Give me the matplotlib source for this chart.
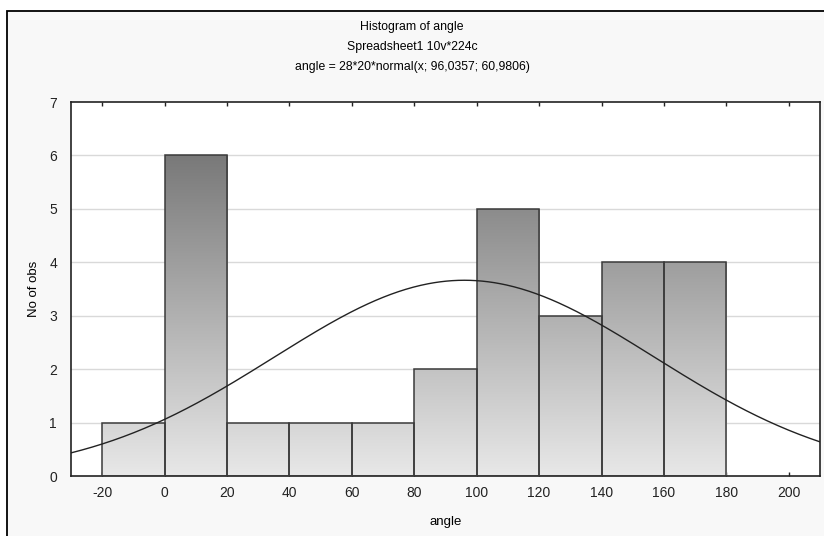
import numpy as np
import matplotlib.pyplot as plt
from matplotlib.patches import Rectangle

plt.rcParams['font.family'] = ['Liberation Sans', 'DejaVu Sans']
plt.rcParams['axes.unicode_minus'] = False

# histogram bins (left edges, width 20) and counts
bin_left = [-20, 0, 20, 40, 60, 80, 100, 120, 140, 160]
counts = [1, 6, 1, 1, 1, 2, 5, 3, 4, 4]
bin_width = 20

# fitted normal shown in the title
n_obs = 28
fit_mean = 96.0357
fit_sd = 60.9806

xticks = [-20, 0, 20, 40, 60, 80, 100, 120, 140, 160, 180, 200]
yticks = [0, 1, 2, 3, 4, 5, 6, 7]

W, H = 824, 536
fig = plt.figure(figsize=(W / 100, H / 100), dpi=100)
fig.patch.set_facecolor('white')

# outer frame
frame = Rectangle((7 / W, -0.01), (W - 7) / W + 0.01, (H - 11) / H + 0.01,
                  transform=fig.transFigure, facecolor='#f8f8f8',
                  edgecolor='black', lw=1.3, zorder=-1)
fig.patches.append(frame)

ax = fig.add_axes([71 / W, (H - 476) / H, (820 - 71) / W, (476 - 102) / H])
ax.set_zorder(2)
ax.set_facecolor('white')
ax.set_xlim(-30, 210)
ax.set_ylim(0, 7)

for y in yticks[1:-1]:
    ax.axhline(y, color='#d9d9d9', lw=1, zorder=1)

# gradient: dark at top, light at bottom, in data coordinates
grad = np.linspace(0, 1, 256).reshape(-1, 1)
cvals = (232 - 18.5 * 7 * grad) / 255.0
img_rgb = np.dstack([cvals, cvals, cvals])
for left, c in zip(bin_left, counts):
    im = ax.imshow(img_rgb, extent=(-30, 210, 0, 7), origin='lower',
                   aspect='auto', zorder=2, interpolation='bilinear')
    rect = Rectangle((left, 0), bin_width, c, facecolor='none',
                     edgecolor='#3a3a3a', lw=1.1, zorder=3)
    ax.add_patch(rect)
    im.set_clip_path(rect)

xs = np.linspace(-30, 210, 500)
ys = n_obs * bin_width * np.exp(-0.5 * ((xs - fit_mean) / fit_sd) ** 2) / (fit_sd * np.sqrt(2 * np.pi))
ax.plot(xs, ys, color='#222222', lw=1.0, zorder=4)

ax.set_xticks(xticks)
ax.set_yticks(yticks)
ax.tick_params(direction='in', length=3, width=1, top=True,
               labelsize=10, colors='#222222', pad=7)
ax.tick_params(axis='y', length=0, pad=10)
for s in ax.spines.values():
    s.set_linewidth(1.2)
    s.set_color('#222222')

ax.set_xlabel('angle', fontsize=9.5, labelpad=12)
ax.set_ylabel('No of obs', fontsize=9.5, labelpad=7)

fig.text(0.5, 1 - 27 / H, 'Histogram of angle', ha='center', va='center', fontsize=8.8)
fig.text(0.5, 1 - 47 / H, 'Spreadsheet1 10v*224c', ha='center', va='center', fontsize=8.8)
fig.text(0.5, 1 - 67 / H, 'angle = 28*20*normal(x; 96,0357; 60,9806)', ha='center', va='center', fontsize=8.8)

fig.savefig('out.png', dpi=100)
